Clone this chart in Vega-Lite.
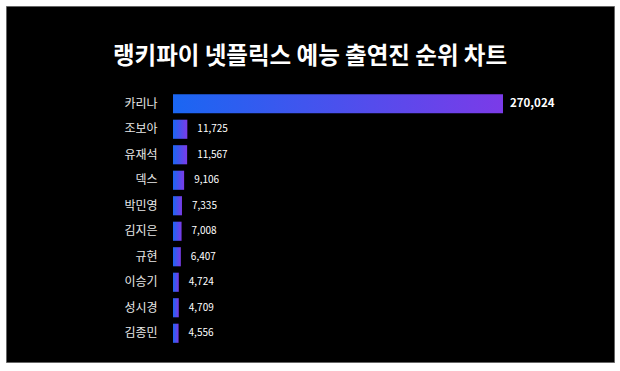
{
  "$schema": "https://vega.github.io/schema/vega-lite/v6.json",
  "width": 608,
  "height": 356,
  "autosize": {"type": "none"},
  "padding": {"left": 6, "top": 6, "right": 6, "bottom": 9},
  "background": "#ffffff",
  "title": {
    "text": "랭키파이 넷플릭스 예능 출연진 순위 차트",
    "font": "Noto Sans CJK KR",
    "fontSize": 23.5,
    "fontWeight": "bold",
    "color": "#ffffff",
    "anchor": "middle",
    "offset": -62
  },
  "data": {
    "values": [
      {"name": "카리나", "value": 270024},
      {"name": "조보아", "value": 11725},
      {"name": "유재석", "value": 11567},
      {"name": "덱스", "value": 9106},
      {"name": "박민영", "value": 7335},
      {"name": "김지은", "value": 7008},
      {"name": "규현", "value": 6407},
      {"name": "이승기", "value": 4724},
      {"name": "성시경", "value": 4709},
      {"name": "김종민", "value": 4556}
    ]
  },
  "encoding": {
    "y": {
      "field": "name",
      "type": "nominal",
      "sort": null,
      "scale": {"range": [85, 340], "paddingInner": 0.25, "paddingOuter": 0.125},
      "axis": {
        "title": null,
        "ticks": false,
        "domain": false,
        "labelPadding": 0,
        "offset": -151,
        "labelFont": "Noto Sans CJK KR",
        "labelFontSize": 12,
        "labelColor": "#e8e8e8"
      }
    },
    "x": {
      "field": "value",
      "type": "quantitative",
      "scale": {"domain": [0, 270024], "range": [167, 497], "nice": false, "zero": true},
      "axis": null
    }
  },
  "layer": [
    {
      "mark": {
        "type": "bar",
        "color": {
          "gradient": "linear",
          "x1": 0, "y1": 0, "x2": 1, "y2": 0,
          "stops": [
            {"offset": 0, "color": "#1a66f2"},
            {"offset": 1, "color": "#7b3be8"}
          ]
        }
      }
    },
    {
      "transform": [{"filter": "datum.value > 100000"}],
      "mark": {"type": "text", "align": "left", "baseline": "middle", "dx": 7, "font": "Noto Sans CJK KR", "fontSize": 11.5, "fontWeight": "bold", "color": "#ffffff"},
      "encoding": {"text": {"field": "value", "type": "quantitative", "format": ","}}
    },
    {
      "transform": [{"filter": "datum.value <= 100000"}],
      "mark": {"type": "text", "align": "left", "baseline": "middle", "dx": 10, "font": "Noto Sans CJK KR", "fontSize": 10, "color": "#ffffff"},
      "encoding": {"text": {"field": "value", "type": "quantitative", "format": ","}}
    }
  ],
  "config": {
    "view": {"fill": "#000000", "stroke": "#666666"}
  }
}
